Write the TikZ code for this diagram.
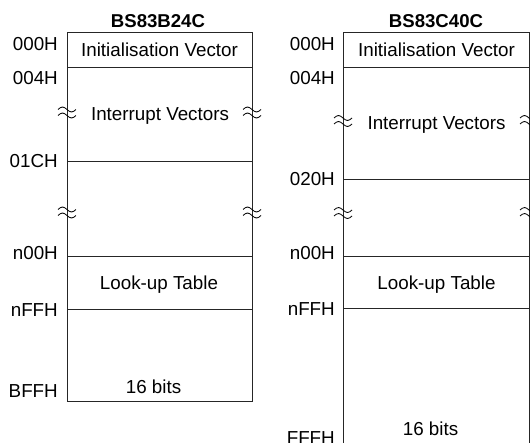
\documentclass[tikz,border=0pt]{standalone}
\usepackage{fontspec}
\setmainfont{Liberation Sans}
\begin{document}
\begin{tikzpicture}[x=1pt,y=-1pt,
  font=\fontsize{18.8}{22}\selectfont,
  lbl/.style={anchor=base east, inner sep=0pt},
  txt/.style={anchor=base, inner sep=0pt},
  ttl/.style={anchor=base, inner sep=0pt, font=\fontsize{18.6}{22}\selectfont\bfseries},
  ln/.style={line width=0.9pt, black!85},
  brkpic/.pic={
    \draw[line width=0.8pt] (-9,-3) sin (-4.5,-5.5) cos (0,-3) sin (4.5,-0.5) cos (9,-3);
    \draw[line width=0.8pt] (-9,3) sin (-4.5,0.5) cos (0,3) sin (4.5,5.5) cos (9,3);
  }]
\clip (0,0) rectangle (530,442);
\fill[white] (0,0) rectangle (530,442);

% ---------- left map ----------
\node[ttl] (t1) at (158,27) {BS83B24C};
\draw[ln] (67,32) rectangle (252,401);
\draw[ln] (67,67) -- (252,67);
\draw[ln] (67,161) -- (252,161);
\draw[ln] (67,256) -- (252,256);
\draw[ln] (67,309) -- (252,309);
\node[txt] (iv1) at (159.5,56) {Initialisation Vector};
\node[txt] (ir1) at (160,120) {Interrupt Vectors};
\node[txt] (lt1) at (159,289) {Look-up Table};
\node[txt] (b1) at (153.5,393.5) {16 bits};
\node[lbl] (a1) at (58,50.5) {000H};
\node[lbl] (a2) at (58,84) {004H};
\node[lbl] (a3) at (58,167) {01CH};
\node[lbl] (a4) at (58,259.5) {n00H};
\node[lbl] (a5) at (58,316) {nFFH};
\node[lbl] (a6) at (58,397) {BFFH};
\pic at (67,112.5) {brkpic};
\pic at (252,112.5) {brkpic};
\pic at (67,212.5) {brkpic};
\pic at (252,212.5) {brkpic};

% ---------- right map ----------
\node[ttl] (t2) at (436,27) {BS83C40C};
\draw[ln] (343,460) -- (343,32) -- (529,32) -- (529,460);
\draw[ln] (343,67) -- (529,67);
\draw[ln] (343,179) -- (529,179);
\draw[ln] (343,256) -- (529,256);
\draw[ln] (343,308) -- (529,308);
\node[txt] (iv2) at (436.5,56) {Initialisation Vector};
\node[txt] (ir2) at (436.5,129) {Interrupt Vectors};
\node[txt] (lt2) at (436.5,289) {Look-up Table};
\node[txt] (b2) at (430.5,435.5) {16 bits};
\node[lbl] (c1) at (335,50) {000H};
\node[lbl] (c2) at (335,84) {004H};
\node[lbl] (c3) at (335,185) {020H};
\node[lbl] (c4) at (335,259) {n00H};
\node[lbl] (c5) at (335,315) {nFFH};
\node[lbl] (c6) at (335,444) {FFFH};
\pic at (343,121) {brkpic};
\pic at (529,121) {brkpic};
\pic at (343,213) {brkpic};
\pic at (529,213) {brkpic};
\end{tikzpicture}
\end{document}
